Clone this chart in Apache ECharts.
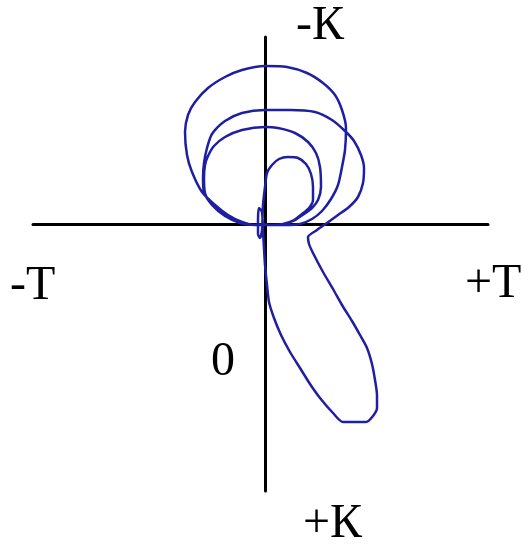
<!DOCTYPE html>
<html>
<head>
<meta charset="utf-8">
<script src="https://cdn.jsdelivr.net/npm/echarts@6/dist/echarts.min.js"></script>
<style>
html,body{margin:0;padding:0;background:#fff;}
#chart{width:522px;height:546px;}
</style>
</head>
<body>
<div id="chart"></div>
<script>
// Loop segments as [T, K] pairs (K grows downward, "+К" at bottom)
var outerLoop = [
  [-2,0],[-10,1],[-23,-2],[-37,-9],[-50,-19],[-63,-32],[-73,-52],[-78,-69],[-80,-92],
  [-77,-109],[-70,-122],[-57,-136],[-40,-147],[-23,-154],[0,-158],[22,-157],[42,-151],
  [58,-141],[70,-129],[77,-114],[81,-96],[80,-74],[77,-57],[73,-39],[66,-25],[57,-13],
  [47,-5],[35,0],[20,1],[5,1]
];
var thirdLoop = [
  [-10,1],[-25,-1],[-39,-8],[-52,-18],[-60,-31],[-61,-46],[-60,-59],[-57,-68],[-51,-78],
  [-40,-87],[-23,-94],[0,-97],[13,-96],[30,-91],[43,-82],[51,-71],[55,-57],[56,-37],
  [53,-24],[47,-16],[39,-10],[30,-4],[18,0],[5,1]
];
var middleLoop = [
  [-10,1],[-25,-1],[-40,-8],[-53,-19],[-61,-32],[-62,-46],[-61,-61],[-58,-76],[-53,-90],
  [-40,-103],[-23,-111],[0,-114],[25,-114],[50,-112],[67,-104],[80,-93],[89,-83],[96,-69],
  [99,-56],[98,-41],[93,-27],[84,-17],[73,-9],[62,-1],[52,6],[43,13]
];
var tailLoop = [
  [44,20],[48,29],[58,48],[68,65],[77,81],[87,97],[95,111],[102,124],[107,140],[110,156],
  [112,171],[112,184],[108,192],[101,198],[78,198],[68,189],[55,174],[45,160],[35,144],
  [25,128],[16,111],[9,94],[4,78],[2,61],[0,41],[-1,24],[-2,8],[-3,-12],[-6,-16],[-7,-4],
  [-7,10],[-5,14],[-3,6],[-2,-19]
];
var innerLoop = [
  [0,-37],[2,-51],[7,-59],[14,-65],[23,-67],[33,-66],[41,-60],[46,-50],[48,-37],[48,-24],
  [44,-16],[37,-10],[29,-4],[18,0],[5,1],[-2,0]
];
var axisLabels = [
  {text: '-К', x: 296, y: 26},
  {text: '-T', x: 10, y: 286},
  {text: '+T', x: 465, y: 284},
  {text: '0', x: 211, y: 362},
  {text: '+К', x: 303, y: 524}
];

var curve = [].concat(outerLoop, thirdLoop, middleLoop, tailLoop, innerLoop);

var chart = echarts.init(document.getElementById('chart'), null, {renderer: 'canvas'});
var axisCommon = {
  type: 'value',
  axisLine: {show: true, onZero: true, lineStyle: {color: '#000', width: 3}},
  axisTick: {show: false},
  axisLabel: {show: false},
  splitLine: {show: false}
};
chart.setOption({
  backgroundColor: '#ffffff',
  animation: false,
  grid: {left: 33, right: 34, top: 37, bottom: 55},
  xAxis: Object.assign({}, axisCommon, {min: -232, max: 223}),
  yAxis: Object.assign({}, axisCommon, {min: -187, max: 267, inverse: true}),
  series: [{
    type: 'line',
    data: curve,
    symbol: 'none',
    smooth: 0.25,
    lineStyle: {color: '#1f1fa2', width: 2.5}
  }],
  graphic: axisLabels.map(function (l) {
    return {
      type: 'text',
      x: l.x,
      y: l.y,
      style: {
        text: l.text,
        fontFamily: 'Liberation Serif',
        fontSize: 48,
        fill: '#000',
        align: 'left',
        verticalAlign: 'middle'
      }
    };
  })
});
</script>
</body>
</html>
